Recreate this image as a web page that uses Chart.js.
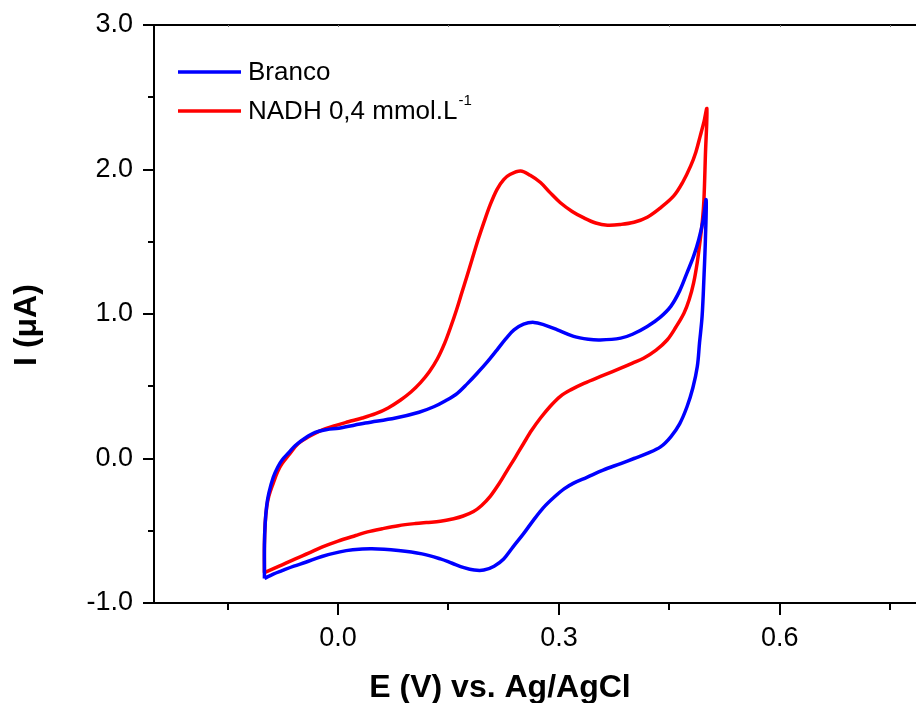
<!DOCTYPE html>
<html>
<head>
<meta charset="utf-8">
<script src="https://cdn.jsdelivr.net/npm/chart.js@4.4.1/dist/chart.umd.min.js"></script>
<style>
  html, body { margin: 0; padding: 0; background: #fff; overflow: hidden; }
  #wrap { position: absolute; left: 0; top: 0; width: 927px; height: 703px; }
</style>
</head>
<body>
<div id="wrap"><canvas id="voltamograma" width="927" height="703"></canvas></div>
<script>
// voltametria ciclica: E (V) vs. Ag/AgCl e I (uA)
let potencialBranco = [
    -0.100, -0.100, -0.099, -0.097, -0.094, -0.088, -0.082, -0.076, -0.067, -0.058,
    -0.045, -0.031, -0.015, 0.001, 0.037, 0.078, 0.110, 0.130, 0.146, 0.162,
    0.176, 0.189, 0.203, 0.216, 0.228, 0.239, 0.252, 0.266, 0.280, 0.298,
    0.320, 0.340, 0.356, 0.384, 0.400, 0.420, 0.437, 0.452, 0.464, 0.474,
    0.483, 0.490, 0.496, 0.500,
    0.499, 0.497, 0.4945, 0.491, 0.488, 0.482, 0.474, 0.464, 0.452, 0.438,
    0.420, 0.402, 0.384, 0.360, 0.338, 0.320, 0.307, 0.293, 0.279, 0.265,
    0.252, 0.238, 0.225, 0.212, 0.198, 0.185, 0.171, 0.155, 0.139, 0.114,
    0.082, 0.046, 0.020, 0.001, -0.022, -0.044, -0.060, -0.076, -0.088, -0.100
];
let correnteBranco = [
    -0.83, -0.60, -0.45, -0.33, -0.24, -0.13, -0.06, -0.01, 0.04, 0.09,
    0.14, 0.18, 0.20, 0.21, 0.245, 0.28, 0.32, 0.358, 0.40, 0.451,
    0.52, 0.59, 0.67, 0.752, 0.83, 0.89, 0.93, 0.942, 0.925, 0.89,
    0.845, 0.825, 0.82, 0.833, 0.86, 0.914, 0.975, 1.053, 1.16, 1.285,
    1.40, 1.516, 1.65, 1.79,
    1.516, 1.25, 0.983, 0.80, 0.636, 0.49, 0.358, 0.24, 0.15, 0.08,
    0.035, 0.0, -0.035, -0.08, -0.13, -0.17, -0.21, -0.27, -0.34, -0.43,
    -0.52, -0.61, -0.695, -0.745, -0.772, -0.772, -0.755, -0.725, -0.695, -0.66,
    -0.637, -0.625, -0.632, -0.648, -0.678, -0.718, -0.745, -0.776, -0.80, -0.83
];

let potencialNadh = [
    -0.100, -0.100, -0.099, -0.097, -0.094, -0.088, -0.082, -0.076, -0.066, -0.054,
    -0.040, -0.022, -0.004, 0.014, 0.033, 0.051, 0.068, 0.085, 0.099, 0.112,
    0.124, 0.135, 0.145, 0.153, 0.161, 0.168, 0.175, 0.182, 0.190, 0.198,
    0.207, 0.216, 0.225, 0.234, 0.248, 0.261, 0.275, 0.288, 0.302, 0.318,
    0.334, 0.350, 0.366, 0.384, 0.402, 0.420, 0.438, 0.456, 0.468, 0.479,
    0.486, 0.492, 0.497, 0.501,
    0.499, 0.497, 0.495, 0.492, 0.488, 0.483, 0.477, 0.470, 0.459, 0.447,
    0.432, 0.415, 0.400, 0.384, 0.360, 0.334, 0.316, 0.302, 0.288, 0.275,
    0.263, 0.252, 0.241, 0.230, 0.218, 0.207, 0.195, 0.184, 0.170, 0.157,
    0.139, 0.120, 0.105, 0.082, 0.060, 0.040, 0.024, 0.000, -0.022, -0.040,
    -0.058, -0.080, -0.100
];
let correnteNadh = [
    -0.79, -0.60, -0.45, -0.34, -0.26, -0.17, -0.09, -0.035, 0.03, 0.104,
    0.15, 0.197, 0.228, 0.254, 0.28, 0.31, 0.35, 0.405, 0.46, 0.525,
    0.60, 0.69, 0.80, 0.91, 1.03, 1.146, 1.26, 1.377, 1.51, 1.632,
    1.76, 1.863, 1.93, 1.967, 1.99, 1.96, 1.91, 1.84, 1.77, 1.71,
    1.665, 1.63, 1.615, 1.62, 1.635, 1.67, 1.735, 1.817, 1.91, 2.025,
    2.12, 2.233, 2.33, 2.42,
    2.10, 1.79, 1.65, 1.516, 1.36, 1.215, 1.10, 1.007, 0.91, 0.82,
    0.75, 0.694, 0.66, 0.625, 0.575, 0.52, 0.475, 0.43, 0.36, 0.28,
    0.195, 0.104, 0.01, -0.08, -0.18, -0.26, -0.325, -0.367, -0.398, -0.417,
    -0.435, -0.443, -0.45, -0.465, -0.486, -0.508, -0.533, -0.572, -0.614, -0.655,
    -0.694, -0.745, -0.79
];

let nomesSeries = ['Branco', 'NADH 0,4 mmol.L'];
let expoentes = ['', '-1'];
let coresSeries = ['#0000ff', '#ff0000'];

let ticksX = [-0.15, 0, 0.15, 0.3, 0.45, 0.6, 0.75];
let ticksY = [-1, -0.5, 0, 0.5, 1, 1.5, 2, 2.5, 3];
let tituloX = 'E (V) vs. Ag/AgCl';
let tituloY = 'I (\u03bcA)';

function pares(xs, ys) {
    return xs.map(function (x, i) { return { x: x, y: ys[i] }; });
}

function ehMaiorX(v) {
    return Math.abs(v / 0.3 - Math.round(v / 0.3)) < 1e-6;
}
function ehMaiorY(v) {
    return Math.abs(v - Math.round(v)) < 1e-6;
}

const fonte = "'Liberation Sans', Arial, sans-serif";

// eixos extras, marcas de escala, titulos e legenda
const extras = {
    id: 'extras',
    afterDraw(chart) {
        const ctx = chart.ctx;
        const area = chart.chartArea;
        const sx = chart.scales.x;
        const sy = chart.scales.y;
        ctx.save();
        ctx.strokeStyle = '#000';
        ctx.lineWidth = 2;

        // linha superior
        ctx.beginPath();
        ctx.moveTo(area.left, area.top);
        ctx.lineTo(chart.width, area.top);
        ctx.stroke();

        // marcas do eixo y
        ticksY.forEach(v => {
            const py = Math.round(sy.getPixelForValue(v));
            const len = ehMaiorY(v) ? 11 : 6;
            ctx.beginPath();
            ctx.moveTo(area.left, py);
            ctx.lineTo(area.left - len, py);
            ctx.stroke();
        });
        // marcas do eixo x
        ticksX.forEach(v => {
            const px = Math.round(sx.getPixelForValue(v));
            const len = ehMaiorX(v) ? 12 : 7;
            ctx.beginPath();
            ctx.moveTo(px, area.bottom);
            ctx.lineTo(px, area.bottom + len);
            ctx.stroke();
        });
        // marquinhas no topo
        ctx.strokeStyle = '#777';
        ctx.lineWidth = 1;
        ticksX.forEach(v => {
            const px = Math.round(sx.getPixelForValue(v)) + 0.5;
            ctx.beginPath();
            ctx.moveTo(px, area.top);
            ctx.lineTo(px, area.top + 2);
            ctx.stroke();
        });

        // titulos dos eixos
        ctx.fillStyle = '#000';
        ctx.font = 'bold 32px ' + fonte;
        ctx.textAlign = 'center';
        ctx.textBaseline = 'alphabetic';
        ctx.fillText(tituloX, 500, 697);

        ctx.save();
        ctx.translate(36, 325);
        ctx.rotate(-Math.PI / 2);
        ctx.fillText(tituloY, 0, 0);
        ctx.restore();

        // legenda
        ctx.textAlign = 'left';
        ctx.textBaseline = 'middle';
        const y0 = [72, 111];
        chart.data.datasets.forEach((ds, i) => {
            ctx.strokeStyle = ds.borderColor;
            ctx.lineWidth = 3.5;
            ctx.beginPath();
            ctx.moveTo(178, y0[i]);
            ctx.lineTo(241, y0[i]);
            ctx.stroke();
            ctx.fillStyle = '#000';
            ctx.font = '26px ' + fonte;
            ctx.fillText(nomesSeries[i], 248, y0[i] + 1);
            if (expoentes[i]) {
                const w = ctx.measureText(nomesSeries[i]).width;
                ctx.font = '15px ' + fonte;
                ctx.fillText(expoentes[i], 248 + w + 1, y0[i] - 10);
            }
        });
        ctx.restore();
    }
};

let voltamograma = new Chart(document.getElementById('voltamograma'), {
    type: 'scatter',
    data: {
        datasets: [
            {
                label: nomesSeries[0],
                data: pares(potencialBranco, correnteBranco),
                showLine: true,
                borderColor: coresSeries[0],
                backgroundColor: coresSeries[0],
                borderWidth: 3.5,
                pointRadius: 0,
                tension: 0.35
            },
            {
                label: nomesSeries[1] + expoentes[1],
                data: pares(potencialNadh, correnteNadh),
                showLine: true,
                borderColor: coresSeries[1],
                backgroundColor: coresSeries[1],
                borderWidth: 3.5,
                pointRadius: 0,
                tension: 0.35
            }
        ]
    },
    options: {
        responsive: false,
        animation: false,
        devicePixelRatio: 1,
        layout: { padding: { left: 0, top: 25, right: 0, bottom: 0 } },
        plugins: {
            legend: { display: false },
            tooltip: { enabled: false }
        },
        scales: {
            x: {
                type: 'linear',
                min: -0.25,
                max: 0.8,
                afterBuildTicks: s => { s.ticks = ticksX.map(v => ({ value: v })); },
                afterFit: s => { s.height = 100; s.paddingLeft = 0; s.paddingRight = 0; },
                grid: { display: false },
                border: { display: true, color: '#000', width: 2 },
                ticks: {
                    autoSkip: false,
                    maxRotation: 0,
                    padding: 11,
                    color: '#000',
                    font: { family: fonte, size: 27 },
                    callback: v => ehMaiorX(v) ? v.toFixed(1) : ''
                }
            },
            y: {
                type: 'linear',
                min: -1,
                max: 3,
                afterBuildTicks: s => { s.ticks = ticksY.map(v => ({ value: v })); },
                afterFit: s => { s.width = 154; s.paddingTop = 0; s.paddingBottom = 0; },
                grid: { display: false },
                border: { display: true, color: '#000', width: 2 },
                ticks: {
                    autoSkip: false,
                    padding: 13,
                    color: '#000',
                    font: { family: fonte, size: 27 },
                    callback: v => ehMaiorY(v) ? v.toFixed(1) : ''
                }
            }
        }
    },
    plugins: [extras]
});
</script>
</body>
</html>
